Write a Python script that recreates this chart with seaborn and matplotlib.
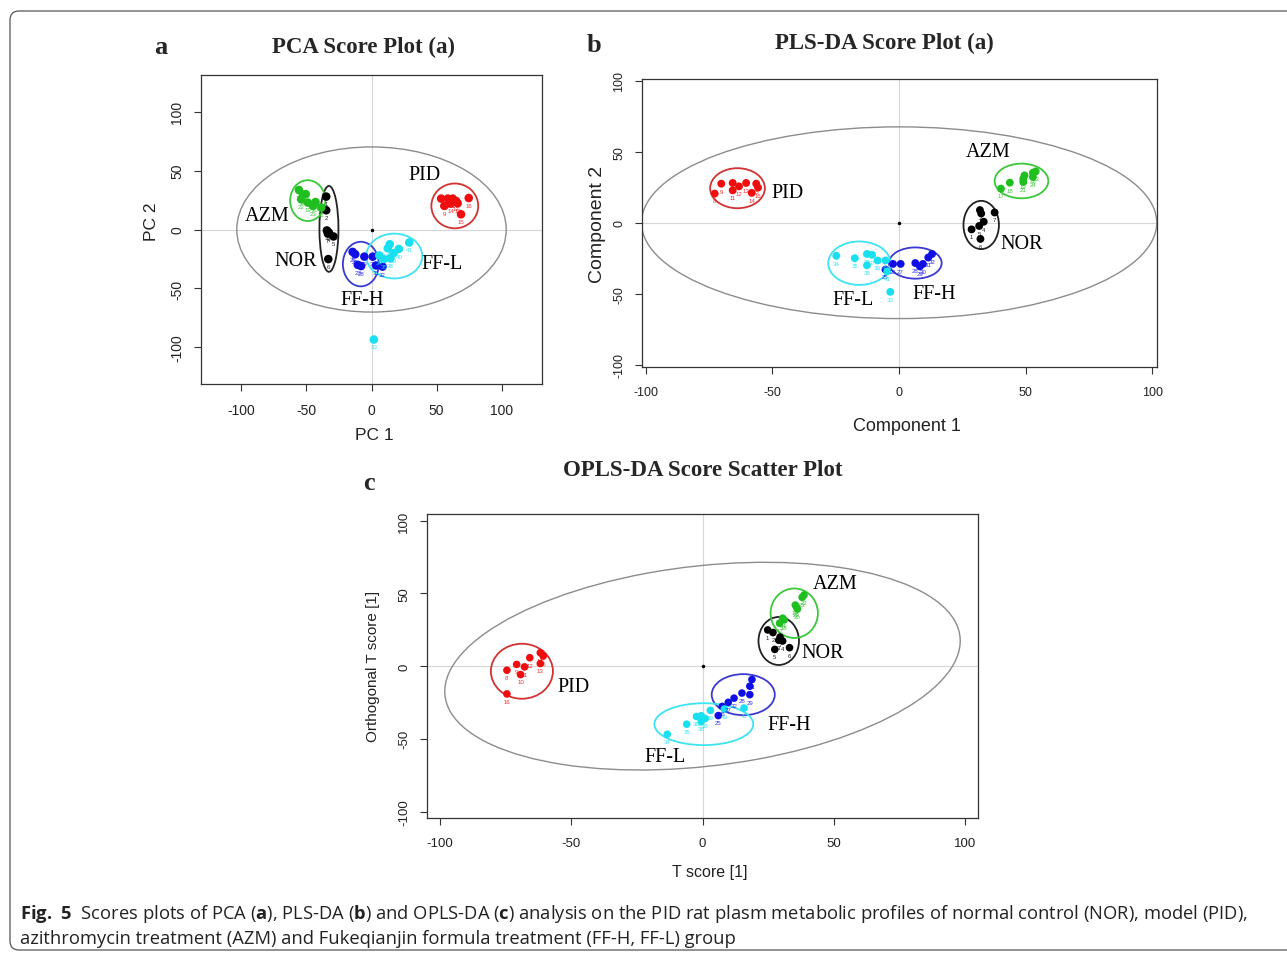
import matplotlib
matplotlib.use("Agg")
import matplotlib.pyplot as plt
from matplotlib.patches import Ellipse, FancyBboxPatch
import pandas as pd
import seaborn as sns

# ---- data ---------------------------------------------------------------
groups = ["NOR", "PID", "AZM", "FF-H", "FF-L"]
group_colors = ["#000000", "#f00d0d", "#1fbf1f", "#1010e6", "#19e0f0"]
ellipse_colors = ["#222222", "#d23232", "#39c839", "#3a3ad2", "#3ce4f2"]

# samples 1..41 in id order
sample_id = [1, 2, 3, 4, 5, 6, 7,
             8, 9, 10, 11, 12, 13, 14, 15, 16,
             17, 18, 19, 20, 21, 22, 23, 24,
             25, 26, 27, 28, 29, 30, 31, 32,
             33, 34, 35, 36, 37, 38, 39, 40, 41]
sample_group = ["NOR"] * 7 + ["PID"] * 9 + ["AZM"] * 8 + ["FF-H"] * 8 + ["FF-L"] * 9

# PCA scores
pca_x = [-34.8, -34.8, -34.3, -32.8, -29.2, -33.2, -33.5,
         53.5, 56.0, 58.6, 62.4, 65.0, 66.2, 60.8, 68.8, 74.7,
         -55.8, -52.7, -48.9, -43.0, -38.6, -54.0, -45.0, -50.5,
         -14.5, -12.5, -10.5, -8.0, -5.5, 1.0, 3.5, 8.5,
         1.8, 6.0, 9.5, 12.5, 14.0, 14.5, 17.0, 21.0, 29.0]
pca_y = [27.9, 16.3, -0.8, -2.5, -5.9, -25.1, -3.5,
         26.2, 20.0, 26.2, 26.2, 24.2, 22.2, 22.0, 12.9, 26.7,
         33.5, 29.3, 22.8, 23.3, 18.6, 25.6, 20.0, 30.0,
         -19.0, -21.0, -30.0, -31.0, -23.0, -23.0, -30.5, -31.5,
         -93.3, -22.0, -25.0, -16.0, -12.5, -24.5, -20.0, -16.5, -11.0]

# PLS-DA scores
pls_x = [28.6, 31.9, 32.4, 33.4, 31.6, 32.1, 37.7,
         -72.8, -70.2, -65.7, -65.7, -63.2, -60.4, -58.2, -56.4, -55.7,
         40.2, 43.7, 49.0, 49.5, 49.0, 52.8, 53.9, 52.8,
         -5.4, -2.4, 0.6, 6.4, 8.2, 9.4, 11.5, 13.0,
         -3.5, -24.8, -17.5, -12.7, -10.7, -12.7, -8.5, -5.4, -4.7]
pls_y = [-4.7, 8.9, 6.5, 0.7, -2.3, -11.4, 7.2,
         20.5, 27.5, 28.0, 22.8, 25.6, 28.0, 21.0, 27.5, 24.7,
         24.0, 28.2, 31.0, 33.3, 28.7, 35.2, 36.1, 32.2,
         -33.0, -29.0, -29.0, -28.4, -30.8, -29.0, -24.5, -22.0,
         -48.7, -23.3, -25.0, -22.0, -22.6, -30.0, -26.6, -26.6, -34.3]

# OPLS-DA scores
opls_x = [24.8, 26.8, 29.0, 30.5, 27.5, 33.1, 29.5,
          -74.4, -70.7, -69.2, -67.7, -65.7, -61.7, -61.7, -60.6, -74.4,
          29.3, 31.1, 35.3, 36.1, 37.9, 38.6, 35.8, 30.5,
          6.0, 7.5, 9.8, 15.0, 18.0, 18.0, 18.8, 12.0,
          1.0, -13.4, -6.0, -2.3, -0.5, -0.5, 3.0, 8.3, 15.8]
opls_y = [24.9, 23.1, 17.8, 17.3, 11.5, 12.7, 20.0,
          -2.8, 1.2, -5.8, -0.5, 5.8, 1.8, 9.2, 6.9, -19.1,
          29.5, 31.8, 42.0, 39.2, 47.3, 48.9, 40.5, 33.0,
          -34.0, -27.7, -24.9, -18.5, -19.6, -13.8, -9.2, -22.0,
          -36.0, -46.8, -39.9, -34.6, -34.1, -38.1, -30.4, -29.5, -28.8]

# group confidence ellipses (centre, semi-axes), order as `groups`
pca_ell_cx = [-32.7, 64.0, -49.0, -8.2, 17.5]
pca_ell_cy = [0.5, 20.0, 24.5, -29.3, -22.5]
pca_ell_rx = [7.3, 18.0, 13.5, 13.8, 21.5]
pca_ell_ry = [36.4, 19.0, 17.3, 18.9, 19.0]
pls_ell_cx = [32.4, -63.8, 48.3, 6.4, -15.7]
pls_ell_cy = [-1.6, 24.3, 29.4, -28.4, -28.5]
pls_ell_rx = [7.0, 10.8, 10.6, 10.4, 12.3]
pls_ell_ry = [17.0, 14.1, 12.2, 11.0, 15.3]
opls_ell_cx = [29.0, -68.7, 34.9, 15.5, 0.5]
opls_ell_cy = [17.3, -3.5, 36.4, -19.6, -39.9]
opls_ell_rx = [7.7, 11.8, 9.0, 12.0, 18.8]
opls_ell_ry = [16.5, 18.9, 17.0, 14.1, 14.4]

# Hotelling ellipse of whole model: semi-axes and rotation (deg)
pca_conf = [103.5, 70.0, 0.0]
pls_conf = [101.7, 67.5, 0.0]
opls_conf = [100.9, 67.3, 18.5]

# group name positions
pca_lab_x = [-58.0, 40.6, -80.0, -7.0, 54.5]
pca_lab_y = [-26.0, 47.0, 12.0, -59.5, -29.0]
pls_lab_x = [48.5, -44.2, 35.1, 14.0, -18.2]
pls_lab_y = [-14.6, 21.1, 50.4, -49.7, -54.4]
opls_lab_x = [45.9, -49.2, 50.4, 33.1, -14.3]
opls_lab_y = [9.2, -13.8, 56.5, -40.4, -62.3]

ticks = [-100, -50, 0, 50, 100]
tick_labels = ["-100", "-50", "0", "50", "100"]

# ---- style ---------------------------------------------------------------
sns.set_theme(style="white")
plt.rcParams["font.family"] = ["Liberation Sans", "DejaVu Sans"]
plt.rcParams["mathtext.fontset"] = "custom"
plt.rcParams["mathtext.rm"] = "Open Sans"
plt.rcParams["mathtext.bf"] = "Open Sans:bold"
SERIF = ["Liberation Serif", "DejaVu Serif"]

W, H = 1287, 954
fig = plt.figure(figsize=(W / 100, H / 100), dpi=100)


def rect(left, top, right, bottom):
    return [left / W, 1 - bottom / H, (right - left) / W, (bottom - top) / H]


def ftext(x, y, s, **kw):
    fig.text(x / W, 1 - y / H, s, ha="center", va="center", **kw)


def score_panel(box, xs, ys, ell, conf, lab, xlim, ylim, tick_fs, dot_size):
    ax = fig.add_axes(box)
    df = pd.DataFrame({"x": xs, "y": ys, "group": sample_group, "id": sample_id})
    ax.axhline(0, color="#d6d6d6", lw=0.8, zorder=0)
    ax.axvline(0, color="#d6d6d6", lw=0.8, zorder=0)
    ax.plot([0], [0], marker="o", ms=1.5, color="black")
    ax.add_patch(Ellipse((0, 0), 2 * conf[0], 2 * conf[1], angle=conf[2],
                         fill=False, ec="#8c8c8c", lw=1.0))
    sns.scatterplot(data=df, x="x", y="y", hue="group", hue_order=groups,
                    palette=group_colors, s=dot_size, linewidth=0,
                    legend=False, ax=ax, zorder=3)
    cmap = dict(zip(groups, group_colors))
    for _, r in df.iterrows():
        ax.annotate(str(r["id"]), (r["x"], r["y"]), xytext=(0, -3.5),
                    textcoords="offset points", ha="center", va="top",
                    fontsize=4.4, color=cmap[r["group"]], alpha=0.85)
    cx, cy, rx, ry = ell
    for i, g in enumerate(groups):
        ax.add_patch(Ellipse((cx[i], cy[i]), 2 * rx[i], 2 * ry[i], fill=False,
                             ec=ellipse_colors[i], lw=1.3, zorder=2))
        ax.text(lab[0][i], lab[1][i], g, ha="center", va="center",
                family=SERIF, fontsize=14.5, color="black")
    ax.set_xlim(*xlim)
    ax.set_ylim(*ylim)
    ax.set_xticks(ticks)
    ax.set_yticks(ticks)
    ax.set_xticklabels(tick_labels, fontsize=tick_fs, color="#222222")
    ax.set_yticklabels(tick_labels, fontsize=tick_fs, color="#222222",
                       rotation=90, va="center")
    ax.tick_params(axis="both", direction="out", length=5, width=0.8,
                   color="#333333", bottom=True, left=True)
    ax.tick_params(axis="x", pad=9)
    ax.tick_params(axis="y", pad=7)
    ax.set_xlabel("")
    ax.set_ylabel("")
    for sp in ax.spines.values():
        sp.set_color("#333333")
        sp.set_linewidth(0.9)
    return ax


# ---- panel a: PCA --------------------------------------------------------
score_panel(rect(201, 76, 542, 385), pca_x, pca_y,
            (pca_ell_cx, pca_ell_cy, pca_ell_rx, pca_ell_ry), pca_conf,
            (pca_lab_x, pca_lab_y), (-131, 131), (-131, 131), 10, 38)
ftext(161, 47, "a", family=SERIF, weight="bold", fontsize=19)
ftext(363, 47, "PCA Score Plot (a)", family=SERIF, weight="bold", fontsize=16.5)
ftext(374, 436, "PC 1", fontsize=12.5, color="#222222")
ftext(152, 222, "PC 2", fontsize=12.5, color="#222222", rotation=90)

# ---- panel b: PLS-DA -----------------------------------------------------
score_panel(rect(642, 80, 1157, 368), pls_x, pls_y,
            (pls_ell_cx, pls_ell_cy, pls_ell_rx, pls_ell_ry), pls_conf,
            (pls_lab_x, pls_lab_y), (-101.5, 101.8), (-101.6, 101.2), 9, 32)
ftext(594, 46, "b", family=SERIF, weight="bold", fontsize=19)
ftext(884, 43, "PLS-DA Score Plot (a)", family=SERIF, weight="bold", fontsize=16.5)
ftext(907, 427, "Component 1", fontsize=13, color="#222222")
ftext(597, 224, "Component 2", fontsize=14, color="#222222", rotation=90)

# ---- panel c: OPLS-DA ----------------------------------------------------
score_panel(rect(427, 515, 978, 819), opls_x, opls_y,
            (opls_ell_cx, opls_ell_cy, opls_ell_rx, opls_ell_ry), opls_conf,
            (opls_lab_x, opls_lab_y), (-104.8, 104.8), (-104.4, 104.6), 9.5, 30)
ftext(369, 484, "c", family=SERIF, weight="bold", fontsize=19)
ftext(703, 470, "OPLS-DA Score Scatter Plot", family=SERIF, weight="bold", fontsize=16.5)
ftext(710, 873, "T score [1]", fontsize=11.5, color="#222222")
ftext(373, 666, "Orthogonal T score [1]", fontsize=11, color="#222222", rotation=90)

# ---- frame and caption ---------------------------------------------------
fig.patches.append(FancyBboxPatch((0.10, 0.03), 13.5, 9.39,
                                  boxstyle="round,pad=0,rounding_size=0.09",
                                  transform=fig.dpi_scale_trans, fill=False,
                                  ec="#555555", lw=0.9))
cap_kw = dict(family=["Open Sans", "DejaVu Sans"], fontsize=13.2, color="#222222",
              ha="left", va="center")
fig.text(20 / W, 1 - 914 / H,
         r"$\mathbf{Fig.\ 5}$  Scores plots of PCA ($\mathbf{a}$), PLS-DA ($\mathbf{b}$) "
         r"and OPLS-DA ($\mathbf{c}$) analysis on the PID rat plasm metabolic profiles "
         r"of normal control (NOR), model (PID),", **cap_kw)
fig.text(20 / W, 1 - 939 / H,
         "azithromycin treatment (AZM) and Fukeqianjin formula treatment (FF-H, FF-L) group",
         **cap_kw)

fig.savefig("out.png", dpi=100)
